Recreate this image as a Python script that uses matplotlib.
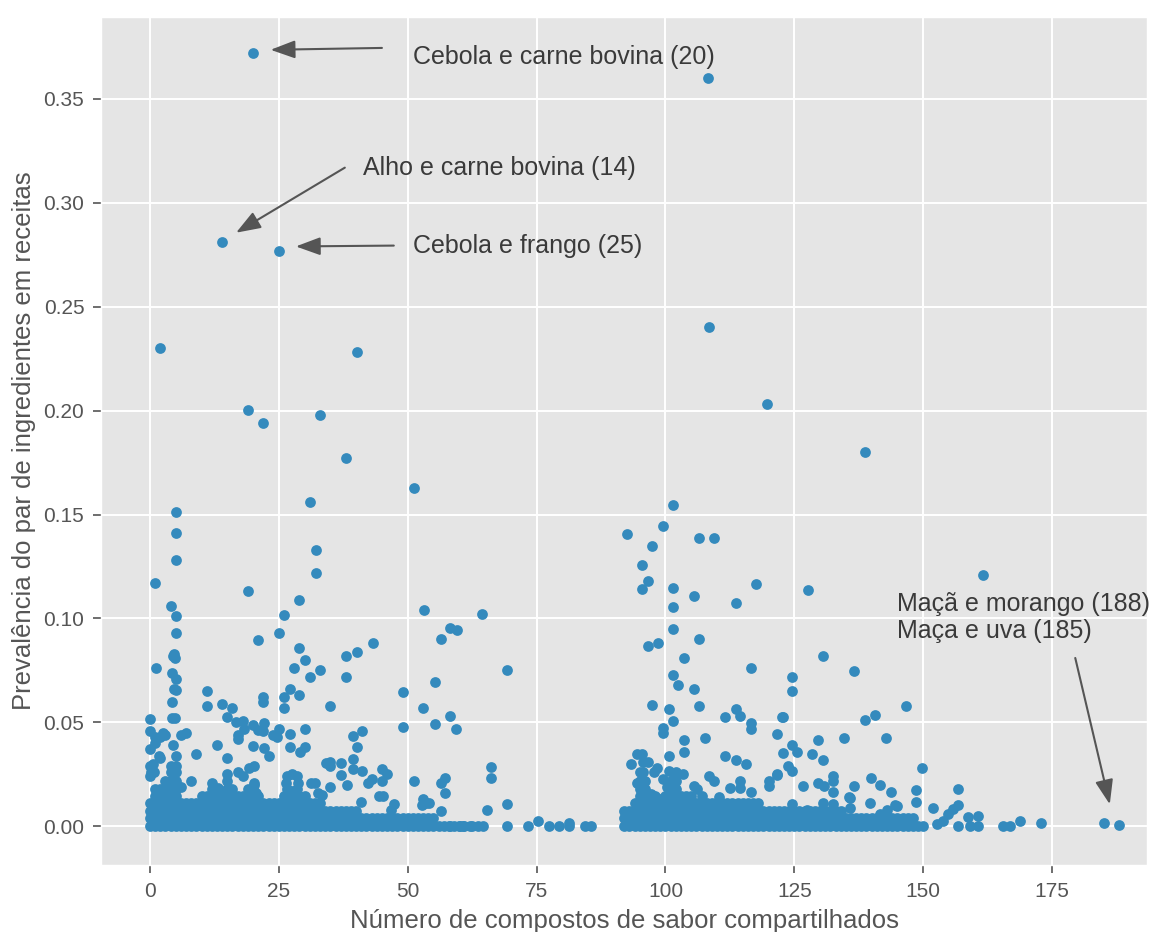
import matplotlib
matplotlib.use("Agg")
import matplotlib.pyplot as plt

plt.style.use("ggplot")
plt.rcParams["font.family"] = ["Liberation Sans", "DejaVu Sans"]

# Ingredient pairs away from the dense band: (shared flavour compounds, prevalence)
left_pairs = [
    (20, 0.372), (14, 0.281), (25, 0.277), (2, 0.230), (40.2, 0.228), (19, 0.2005),
    (22, 0.194), (33, 0.198), (38, 0.177), (51.2, 0.163), (31, 0.156), (5, 0.151),
    (5, 0.141), (5, 0.128), (32.3, 0.133), (32.3, 0.122), (1, 0.117), (19, 0.113),
    (29, 0.109), (4, 0.106), (5, 0.101), (5, 0.093), (26, 0.1015), (25, 0.093),
    (21, 0.0895), (53.2, 0.104), (64.5, 0.102), (58.2, 0.0954), (59.5, 0.0946),
    (56.4, 0.090), (43.3, 0.088), (40.2, 0.084), (38.1, 0.082), (29, 0.086),
    (30.1, 0.080), (28, 0.076), (33, 0.075), (31, 0.072), (38.1, 0.072), (1.2, 0.076),
    (4.6, 0.083), (4.8, 0.081), (4.4, 0.082), (4.2, 0.074), (5, 0.071), (4.6, 0.066),
    (5, 0.0655), (4.2, 0.060), (11, 0.065), (11, 0.058), (14, 0.059), (16, 0.057),
    (15, 0.0525), (22, 0.062), (22, 0.060), (27.1, 0.066), (26, 0.062), (26, 0.057),
    (29, 0.063), (35, 0.058), (49, 0.0645), (49, 0.048), (53, 0.057), (55.3, 0.0695),
    (55.3, 0.049), (58.2, 0.053), (59.3, 0.047), (69.2, 0.075),
    (0, 0.0514), (0, 0.046), (0, 0.037), (0, 0.029), (0, 0.024), (2, 0.033),
    (1, 0.043), (2.5, 0.045), (2, 0.043), (1, 0.040), (3, 0.044), (4.2, 0.052),
    (4.8, 0.052), (7, 0.045), (6, 0.044), (4.4, 0.039), (5, 0.034), (6, 0.019),
    (9, 0.0346), (8, 0.022), (13, 0.039), (15, 0.0327), (16.7, 0.050), (18, 0.0505),
    (18.3, 0.047), (17, 0.044), (17, 0.042), (15, 0.025), (15, 0.022), (17, 0.026),
    (18, 0.024), (19.2, 0.028), (20.2, 0.029), (20, 0.0486), (20.9, 0.0463),
    (22.2, 0.0498), (22, 0.0458), (20, 0.0386), (22.2, 0.0378), (23.1, 0.0337),
    (20.2, 0.020), (23.8, 0.044), (25, 0.047), (24.7, 0.043), (27.1, 0.0445),
    (27.1, 0.038), (30.1, 0.047), (29.1, 0.036), (30.1, 0.038),
    (26.5, 0.024), (27.5, 0.025), (28.5, 0.024), (26.3, 0.021), (28.7, 0.021),
    (26.5, 0.018), (27.5, 0.017), (28.5, 0.018),
    (32, 0.0207), (35, 0.031), (35, 0.029), (37, 0.0305), (35, 0.019), (39.3, 0.0434),
    (41.2, 0.0458), (40.2, 0.038), (39.3, 0.0325), (37, 0.0245), (38.2, 0.0198),
    (39.3, 0.0274), (41.2, 0.0265), (42.2, 0.021), (43.1, 0.0226), (45, 0.0274),
    (46, 0.025), (45, 0.0217), (44.4, 0.0146), (45.3, 0.0146), (41, 0.0118),
    (51.2, 0.0217), (56.4, 0.021), (57.2, 0.0233), (57.2, 0.016), (52.8, 0.0101),
    (54.1, 0.0113), (56.4, 0.0073), (47.3, 0.0106), (46.7, 0.008),
    (66.2, 0.0285), (66.2, 0.0233), (69.2, 0.0108), (65.3, 0.0078), (53, 0.013),
    (53.5, 0.011), (1.8, 0.034), (0.5, 0.030), (0.8, 0.026), (0.2, 0.026),
    (12.1, 0.021), (13.1, 0.0185), (20.2, 0.021), (20.5, 0.016), (31.2, 0.021),
    (32.5, 0.016), (33.4, 0.015), (34.1, 0.0305),
    (58.2, 0.0), (60.1, 0.0), (60.7, 0.0), (62.4, 0.0), (63.7, 0.0), (64.7, 0.0),
    (69.2, 0.0), (73.3, 0.0), (75.3, 0.0025), (77.4, 0.0), (79.3, 0.0), (81.3, 0.0014),
    (81.3, 0.0), (84.4, 0.0), (85.5, 0.0),
]

right_pairs = [
    (108.3, 0.360), (108.4, 0.240), (119.7, 0.203), (138.8, 0.180), (101.5, 0.1545),
    (99.5, 0.1447), (92.6, 0.1406), (106.6, 0.1387), (109.5, 0.1387), (97.4, 0.135),
    (95.5, 0.1255), (96.6, 0.1179), (95.5, 0.1142), (101.5, 0.1149), (105.5, 0.1107),
    (101.5, 0.1056), (113.6, 0.1075), (117.6, 0.1168), (127.7, 0.1135), (161.6, 0.121),
    (101.5, 0.0947), (106.6, 0.0901), (96.6, 0.0866), (98.5, 0.0882), (103.6, 0.081),
    (101.4, 0.0726), (102.5, 0.0678), (105.5, 0.0659), (97.4, 0.0584), (100.6, 0.0565),
    (101.4, 0.0505), (106.6, 0.0577), (99.5, 0.0474), (99.5, 0.0447), (103.6, 0.0413),
    (103.6, 0.0357), (100.6, 0.0337), (107.6, 0.0426), (111.6, 0.0525), (113.6, 0.0565),
    (114.5, 0.053), (116.5, 0.0762), (116.5, 0.0498), (116.5, 0.0469), (122.6, 0.0525),
    (121.6, 0.0445), (124.5, 0.0718), (124.5, 0.065), (111.6, 0.0337), (113.6, 0.0318),
    (115.7, 0.0298), (123.7, 0.029), (124.5, 0.0265), (93.3, 0.0298), (94.5, 0.0346),
    (95.5, 0.0346), (95.7, 0.031), (96.7, 0.031), (95.7, 0.026), (98.4, 0.0281),
    (97.7, 0.026), (100.6, 0.0265), (101.6, 0.025), (103.5, 0.025), (108.4, 0.024),
    (109.4, 0.0217), (99.5, 0.0226), (94.5, 0.021), (112.6, 0.0185), (114.5, 0.0217),
    (114.5, 0.0185), (116.5, 0.0166), (120, 0.0217), (120, 0.0194), (121.6, 0.0245),
    (124.5, 0.0108), (105.5, 0.0194), (106.2, 0.0178), (110.3, 0.0142), (100.3, 0.019),
    (101.3, 0.0185), (99, 0.013), (97.2, 0.0154), (121.6, 0.025),
    (130.6, 0.082), (136.6, 0.0745), (122.8, 0.0525), (138.8, 0.051), (140.7, 0.0535),
    (146.7, 0.058), (134.7, 0.0426), (142.8, 0.0426), (129.6, 0.0413), (124.5, 0.039),
    (125.5, 0.0358), (122.8, 0.0353), (128.5, 0.035), (130.6, 0.0319), (149.7, 0.0279),
    (132.5, 0.024), (132.5, 0.0217), (129.6, 0.0207), (130.7, 0.0194), (126.7, 0.0194),
    (136.6, 0.0194), (139.8, 0.0233), (141.7, 0.0198), (143.8, 0.0166), (148.6, 0.0174),
    (148.6, 0.0117), (132.6, 0.0166), (130.5, 0.011), (132.6, 0.0106), (135.7, 0.0142),
    (144.6, 0.0102), (139.7, 0.0113), (135.8, 0.0137), (135.8, 0.009), (142.9, 0.008),
    (141.7, 0.0058), (144.9, 0.0097), (127.4, 0.008),
    (152, 0.009), (152.7, 0.001), (153.9, 0.0024), (154.8, 0.0058), (155.8, 0.0082),
    (156.8, 0.0101), (156.8, 0.018), (156.8, 0.0), (158.7, 0.0045), (160.7, 0.005),
    (159.1, 0.0), (160.7, 0.0), (165.5, 0.0), (166.9, 0.0), (168.8, 0.0024),
    (172.9, 0.0014),
    (185, 0.0014), (188, 0.0006),
]

# Dense band of pairs close to zero prevalence: x positions on each prevalence level
band_x_000 = [0, 1, 2, 3, 4, 5, 6, 7, 8, 9, 10, 11, 12, 13, 14, 15, 16, 17, 18, 19, 20,
              21, 22, 23, 24, 25, 26, 27, 28, 29, 30, 31, 32, 33, 34, 35, 36, 37, 38, 39,
              40, 41, 42, 43, 44, 45, 46, 47, 48, 49, 50, 51, 52, 53, 54, 55, 56, 57, 58,
              59, 60, 61, 62,
              92, 93, 94, 95, 96, 97, 98, 99, 100, 101, 102, 103, 104, 105, 106, 107, 108,
              109, 110, 111, 112, 113, 114, 115, 116, 117, 118, 119, 120, 121, 122, 123,
              124, 125, 126, 127, 128, 129, 130, 131, 132, 133, 134, 135, 136, 137, 138,
              139, 140, 141, 142, 143, 144, 145, 146, 147, 148, 149, 150]
band_x_004 = [0, 1, 2, 3, 4, 5, 6, 7, 8, 9, 10, 11, 12, 13, 14, 15, 16, 17, 18, 19, 20,
              21, 22, 23, 24, 25, 26, 27, 28, 29, 30, 31, 32, 33, 34, 35, 36, 37, 38, 39,
              40, 41, 42, 43, 44, 45, 46, 47, 48, 49, 50, 51, 52, 53, 54, 55,
              92, 93, 94, 95, 96, 97, 98, 99, 100, 101, 102, 103, 104, 105, 106, 107, 108,
              109, 110, 111, 112, 113, 114, 115, 116, 117, 118, 119, 120, 121, 122, 123,
              124, 125, 126, 127, 128, 129, 130, 131, 132, 133, 134, 135, 136, 137, 138,
              139, 140, 141, 142, 143, 144, 145, 146, 147, 148]
band_x_0075 = [0, 1, 2, 3, 4, 5, 6, 7, 8, 9, 10, 11, 12, 13, 14, 15, 16, 17, 18, 19, 20,
               21, 22, 23, 24, 25, 26, 27, 28, 29, 30, 31, 32, 33, 34, 35, 36, 37, 38, 39,
               40,
               92, 93, 94, 95, 96, 97, 98, 99, 100, 101, 102, 103, 104, 105, 106, 107, 108,
               109, 110, 111, 112, 113, 114, 115, 116, 117, 118, 119, 120, 121, 122, 123,
               124, 125, 126, 127, 128, 129, 130, 131, 132, 133, 134]
band_x_011 = [0, 1, 2, 3, 4, 5, 6, 7, 8, 9, 10, 11, 12, 13, 14, 15, 16, 17, 18, 19, 20,
              21, 22, 23, 24, 25, 26, 27, 28, 29, 30, 31, 32, 33,
              94, 95, 96, 97, 98, 99, 100, 101, 102, 103, 104, 105, 106, 107, 108, 109,
              110, 111, 112, 113, 114, 115, 116, 117, 118]
band_x_0145 = [1, 2, 3, 4, 5, 10, 11, 12, 13, 14, 15, 16, 17, 18, 19, 20, 21, 26, 27, 28,
               29, 30, 95, 96, 97, 98, 100, 101, 102, 103, 104, 105, 107]
band_x_018 = [1, 2, 3, 4, 5, 12, 13, 15, 16, 19, 20, 95, 96, 101, 102]
band_x_022 = [3, 4, 5, 95, 96, 101, 102]
band_x_026 = [4, 5, 95, 102]
band_x_029 = [4, 5]

band_rows = [
    (0.0, band_x_000), (0.004, band_x_004), (0.0075, band_x_0075), (0.011, band_x_011),
    (0.0145, band_x_0145), (0.018, band_x_018), (0.022, band_x_022),
    (0.026, band_x_026), (0.029, band_x_029),
]

shared = [p[0] for p in left_pairs + right_pairs]
prevalence = [p[1] for p in left_pairs + right_pairs]
for level, xs in band_rows:
    shared.extend(xs)
    prevalence.extend([level] * len(xs))

fig = plt.figure(figsize=(11.61, 9.32), dpi=100)
ax = fig.add_axes([0.0870, 0.0719, 0.9013, 0.9099])

ax.scatter(shared, prevalence, s=60, color="#348ABD", linewidths=0, zorder=3)

ax.set_xlim(-9.5, 193.5)
ax.set_ylim(-0.0186, 0.3894)
ax.set_xticks([0, 25, 50, 75, 100, 125, 150, 175])
ax.set_yticks([0.0, 0.05, 0.10, 0.15, 0.20, 0.25, 0.30, 0.35])
ax.yaxis.set_major_formatter(matplotlib.ticker.FormatStrFormatter("%.2f"))
ax.tick_params(axis="both", labelsize=15, colors="#555555", length=6, width=1.2, pad=6)
ax.grid(True, color="white", linewidth=1.4)
ax.set_axisbelow(True)

ax.set_xlabel("Número de compostos de sabor compartilhados", fontsize=18.5,
              color="#555555", labelpad=6)
ax.set_ylabel("Prevalência do par de ingredientes em receitas", fontsize=18.5,
              color="#555555", labelpad=5)

arrow_style = dict(arrowstyle="-|>,head_length=0.6,head_width=0.22", color="#555555",
                   lw=1.5, shrinkA=0, shrinkB=0, mutation_scale=25)
note_color = "#3a3a3a"

ax.annotate("", xy=(23.4, 0.3736), xytext=(45.0, 0.3745), arrowprops=arrow_style)
ax.text(51.0, 0.370, "Cebola e carne bovina (20)", fontsize=18, color=note_color,
        va="center", ha="left")

ax.annotate("", xy=(16.7, 0.2856), xytext=(37.8, 0.3169), arrowprops=arrow_style)
ax.text(41.3, 0.3168, "Alho e carne bovina (14)", fontsize=18, color=note_color,
        va="center", ha="left")

ax.annotate("", xy=(28.3, 0.2790), xytext=(47.3, 0.2794), arrowprops=arrow_style)
ax.text(51.0, 0.2793, "Cebola e frango (25)", fontsize=18, color=note_color,
        va="center", ha="left")

ax.annotate("", xy=(186.2, 0.0106), xytext=(179.5, 0.0810), arrowprops=arrow_style)
ax.text(145.0, 0.1005, "Maçã e morango (188)\nMaça e uva (185)", fontsize=18,
        color=note_color, va="center", ha="left", linespacing=1.2)

fig.savefig("out.png", dpi=100, facecolor="white")
